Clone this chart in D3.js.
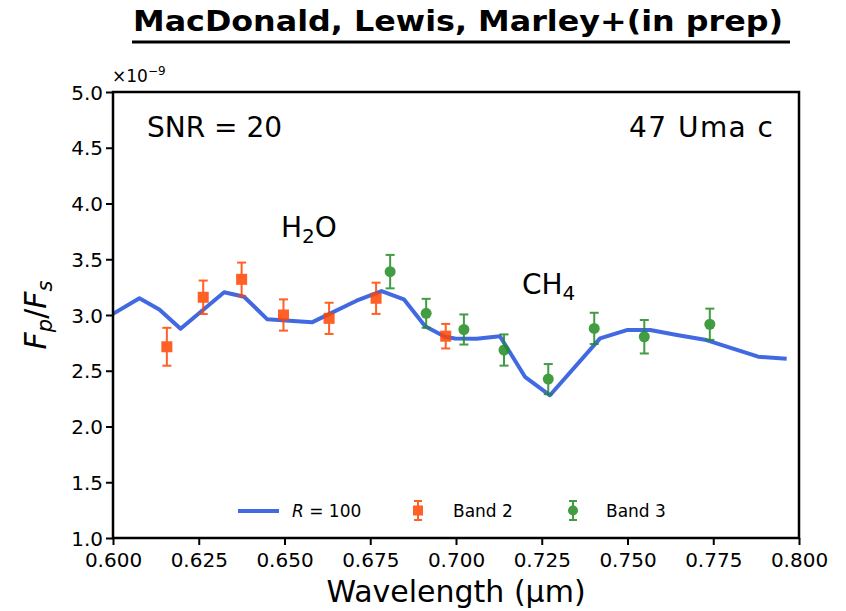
<!DOCTYPE html>
<html>
<head>
<meta charset="utf-8">
<script src="https://cdn.jsdelivr.net/npm/d3@7"></script>
<style>
  html, body { margin: 0; padding: 0; background: #fff; }
  svg text { font-family: "DejaVu Sans", sans-serif; fill: #000; }
</style>
</head>
<body>
<div id="chart"></div>
<script>
// ---- Data (flux in units of 1e-9)
const modelWl   = [0.600, 0.6077, 0.6135, 0.6197, 0.6324, 0.6382, 0.645, 0.658, 0.671, 0.6783, 0.6848, 0.691, 0.6968, 0.6997, 0.706, 0.7128, 0.7201, 0.7274, 0.742, 0.7498, 0.7566, 0.7644, 0.773, 0.7881, 0.7964];
const modelFlux = [3.01, 3.15, 3.05, 2.877, 3.204, 3.164, 2.961, 2.934, 3.128, 3.215, 3.141, 2.90, 2.805, 2.79, 2.787, 2.81, 2.446, 2.28, 2.79, 2.865, 2.865, 2.82, 2.775, 2.626, 2.607];

const band2Wl   = [0.6157, 0.6263, 0.6375, 0.6497, 0.663, 0.6767, 0.697];
const band2Flux = [2.715, 3.159, 3.32, 3.00, 2.97, 3.15, 2.81];
const band2Err  = [0.17, 0.15, 0.15, 0.14, 0.14, 0.14, 0.11];

const band3Wl   = [0.6808, 0.6913, 0.7023, 0.714, 0.7269, 0.7403, 0.7549, 0.774];
const band3Flux = [3.389, 3.015, 2.87, 2.686, 2.425, 2.88, 2.805, 2.917];
const band3Err  = [0.15, 0.13, 0.135, 0.14, 0.135, 0.14, 0.15, 0.14];

const xTicks = [0.600, 0.625, 0.650, 0.675, 0.700, 0.725, 0.750, 0.775, 0.800];
const yTicks = [1.0, 1.5, 2.0, 2.5, 3.0, 3.5, 4.0, 4.5, 5.0];

const W = 846, H = 611;
const margins = { left: 113, right: 47, top: 92, bottom: 73 };

const svg = d3.select('#chart').append('svg')
    .attr('width', W).attr('height', H);

const mapX = d3.scaleLinear().domain([0.6, 0.8]).range([margins.left, W - margins.right]);
const mapY = d3.scaleLinear().domain([1, 5]).range([H - margins.bottom, margins.top]);

// ---- Title
svg.append('text')
    .attr('x', 133).attr('y', 31)
    .attr('textLength', 650).attr('lengthAdjust', 'spacingAndGlyphs')
    .style('font-family', '"URW Gothic", "Century Gothic", "DejaVu Sans", sans-serif')
    .style('font-weight', 'bold').style('font-size', '29px')
    .text('MacDonald, Lewis, Marley+(in prep)');
svg.append('line')
    .attr('x1', 132).attr('x2', 790).attr('y1', 42).attr('y2', 42)
    .attr('stroke', '#000').attr('stroke-width', 3);

// ---- Axes
const xAxis = svg.append('g')
    .attr('transform', `translate(0, ${H - margins.bottom})`)
    .call(d3.axisBottom(mapX).tickValues(xTicks).tickFormat(d3.format('.3f')).tickSize(7).tickSizeOuter(0));
const yAxis = svg.append('g')
    .attr('transform', `translate(${margins.left}, 0)`)
    .call(d3.axisLeft(mapY).tickValues(yTicks).tickFormat(d3.format('.1f')).tickSize(7).tickSizeOuter(0));

[xAxis, yAxis].forEach(g => {
    g.select('.domain').remove();
    g.selectAll('.tick line').attr('stroke', '#000').attr('stroke-width', 2);
    g.selectAll('.tick text').style('font-size', '20px').style('font-family', '"DejaVu Sans", sans-serif');
});
xAxis.selectAll('.tick text').attr('dy', '0.95em');
yAxis.selectAll('.tick text').attr('x', -10).attr('dy', '0.36em');

// ---- Model line
const line = d3.line().x((d, i) => mapX(modelWl[i])).y(d => mapY(d));
svg.append('path')
    .datum(modelFlux)
    .attr('d', line)
    .attr('fill', 'none')
    .attr('stroke', '#4169e1')
    .attr('stroke-width', 4)
    .attr('stroke-linejoin', 'round');

// ---- Error bar series
function drawBand(wl, flux, err, color, shape) {
    const g = svg.append('g').attr('opacity', 0.85);
    const rows = wl.map((w, i) => ({ w, f: flux[i], e: err[i] }));
    const pts = g.selectAll('g.pt').data(rows).join('g').attr('class', 'pt');
    pts.append('line')
        .attr('x1', d => mapX(d.w)).attr('x2', d => mapX(d.w))
        .attr('y1', d => mapY(d.f - d.e)).attr('y2', d => mapY(d.f + d.e))
        .attr('stroke', color).attr('stroke-width', 2);
    [1, -1].forEach(s => {
        pts.append('line')
            .attr('x1', d => mapX(d.w) - 4.5).attr('x2', d => mapX(d.w) + 4.5)
            .attr('y1', d => mapY(d.f + s * d.e)).attr('y2', d => mapY(d.f + s * d.e))
            .attr('stroke', color).attr('stroke-width', 2);
    });
    if (shape === 'square') {
        pts.append('rect')
            .attr('x', d => mapX(d.w) - 5.5).attr('y', d => mapY(d.f) - 5.5)
            .attr('width', 11).attr('height', 11)
            .attr('fill', color);
    } else {
        pts.append('circle')
            .attr('cx', d => mapX(d.w)).attr('cy', d => mapY(d.f))
            .attr('r', 5.5)
            .attr('fill', color);
    }
}
drawBand(band2Wl, band2Flux, band2Err, '#ff4500', 'square');
drawBand(band3Wl, band3Flux, band3Err, '#228b22', 'circle');

// ---- Frame
svg.append('rect')
    .attr('x', margins.left).attr('y', margins.top)
    .attr('width', W - margins.left - margins.right)
    .attr('height', H - margins.top - margins.bottom)
    .attr('fill', 'none').attr('stroke', '#000').attr('stroke-width', 2.5);

// ---- Offset label
const off = svg.append('text').attr('x', 112).attr('y', 82).style('font-size', '17px');
off.append('tspan').text('×10');
off.append('tspan').attr('dy', -7).style('font-size', '12px').text('−9');

// ---- Annotations
svg.append('text').attr('x', 147).attr('y', 137).style('font-size', '28px').text('SNR = 20');
svg.append('text').attr('x', 629).attr('y', 137)
    .attr('textLength', 144).attr('lengthAdjust', 'spacing')
    .style('font-size', '28px').text('47 Uma c');

const h2o = svg.append('text').attr('x', 281).attr('y', 237).style('font-size', '28px');
h2o.append('tspan').text('H');
h2o.append('tspan').attr('dy', 6).style('font-size', '20px').text('2');
h2o.append('tspan').attr('dy', -6).text('O');

const ch4 = svg.append('text').attr('x', 522).attr('y', 294).style('font-size', '28px');
ch4.append('tspan').text('CH');
ch4.append('tspan').attr('dy', 6).style('font-size', '20px').text('4');

// ---- Axis labels
svg.append('text')
    .attr('x', mapX(0.7)).attr('y', 602)
    .attr('text-anchor', 'middle').style('font-size', '30px')
    .text('Wavelength (µm)');

const yl = svg.append('text')
    .attr('transform', `translate(46, ${(margins.top + H - margins.bottom) / 2}) rotate(-90)`)
    .attr('text-anchor', 'middle').style('font-size', '30px');
yl.append('tspan').style('font-style', 'italic').text('F');
yl.append('tspan').attr('dy', 6).style('font-size', '21px').style('font-style', 'italic').text('p');
yl.append('tspan').attr('dy', -6).text('/');
yl.append('tspan').style('font-style', 'italic').text('F');
yl.append('tspan').attr('dy', 6).style('font-size', '21px').style('font-style', 'italic').text('s');

// ---- Legend
const lg = svg.append('g');
lg.append('line').attr('x1', 238).attr('x2', 279).attr('y1', 511).attr('y2', 511)
    .attr('stroke', '#4169e1').attr('stroke-width', 4);
const rl = lg.append('text').attr('x', 292).attr('y', 517).style('font-size', '17px');
rl.append('tspan').style('font-style', 'italic').text('R');
rl.append('tspan').text(' = 100');

const legendMarks = [
    { x: 418, color: '#ff4500', shape: 'square', label: 'Band 2', tx: 453 },
    { x: 573, color: '#228b22', shape: 'circle', label: 'Band 3', tx: 606 }
];
legendMarks.forEach(m => {
    const g = lg.append('g').attr('opacity', 0.85);
    g.append('line').attr('x1', m.x).attr('x2', m.x).attr('y1', 501).attr('y2', 520)
        .attr('stroke', m.color).attr('stroke-width', 2);
    [501, 520].forEach(y => g.append('line').attr('x1', m.x - 4).attr('x2', m.x + 4)
        .attr('y1', y).attr('y2', y).attr('stroke', m.color).attr('stroke-width', 2));
    if (m.shape === 'square') {
        g.append('rect').attr('x', m.x - 5).attr('y', 505.5).attr('width', 10).attr('height', 10).attr('fill', m.color);
    } else {
        g.append('circle').attr('cx', m.x).attr('cy', 510.5).attr('r', 5).attr('fill', m.color);
    }
    lg.append('text').attr('x', m.tx).attr('y', 517).style('font-size', '17px').text(m.label);
});
</script>
</body>
</html>
